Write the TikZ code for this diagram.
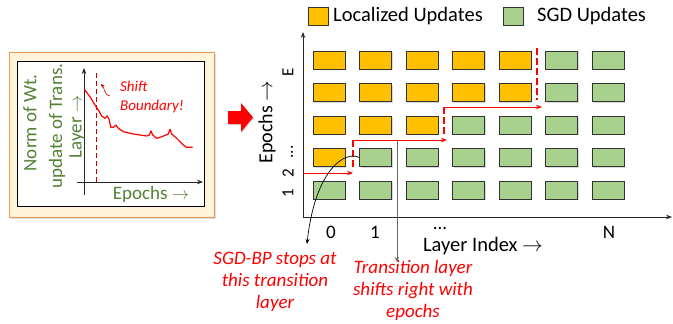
\documentclass[tikz,border=0pt]{standalone}
\usepackage{fontspec}
\setmainfont{Carlito}
\usepackage{xcolor}
\usetikzlibrary{positioning, arrows.meta, calc, shadows}
\definecolor{locorange}{RGB}{255,192,0}
\definecolor{sgdgreen}{RGB}{169,209,142}
\definecolor{txtgreen}{RGB}{84,130,53}
\definecolor{panelfill}{RGB}{255,243,218}
\definecolor{paneldraw}{RGB}{236,150,90}
\definecolor{darkred}{RGB}{192,0,0}

\begin{document}
\begin{tikzpicture}[x=1pt, y=-1pt, every node/.style={font=\fontsize{19}{23}\selectfont, inner sep=0pt}]
  \def\CX{329}
  \def\DX{46.5}
  \def\RY{60}
  \def\DY{32.5}
  \tikzset{
    axis/.style={draw=black!85, line width=0.8pt, -{Stealth[length=6pt, width=4.5pt]}},
    blk/.style={draw=black!80, line width=0.6pt, minimum width=32pt, minimum height=18pt,
      drop shadow={shadow xshift=1.3pt, shadow yshift=-1.3pt, opacity=0.3}},
    locblk/.style={blk, fill=locorange},
    sgdblk/.style={blk, fill=sgdgreen},
    legbox/.style={draw=black!80, line width=0.6pt, minimum width=20pt, minimum height=18pt},
    shiftarrow/.style={red, line width=0.8pt, -{Stealth[length=6pt, width=4.5pt]}},
    bound/.style={red, line width=1.8pt, dash pattern=on 7pt off 3pt},
    note/.style={red, font=\fontsize{19}{22}\selectfont\itshape, align=center},
    gtext/.style={txtgreen, font=\fontsize{19}{22}\selectfont},
    ylab/.style={rotate=90, font=\fontsize{17}{20}\selectfont},
  }
  \useasboundingbox (0,0) rectangle (673,324);

  %% ===== Left panel: norm of weight update =====
  \node[draw=paneldraw, fill=panelfill, line width=0.8pt, minimum width=205pt, minimum height=165pt,
    drop shadow={shadow xshift=2pt, shadow yshift=-2pt, opacity=0.25}] (panel) at (111.5,134.5) {};
  \node[draw=black, fill=white, line width=0.8pt, minimum width=187pt, minimum height=145pt] (plotbox) at (110.5,133.5) {};
  \coordinate (orig) at (84,182);
  \coordinate (ytop) at (84,68);
  \coordinate (xend) at (203,182);
  \draw[axis] (84,195) -- (ytop);
  \draw[axis] (77,182) -- (xend);
  \draw[darkred, line width=1pt, dash pattern=on 5pt off 3pt] (96,73) -- (96,182);
  % jagged curve of the norm
  \draw[red, line width=1.2pt, line join=round]
    (84.3,89.3) -- (90,96.7) -- (95,105) -- (98.3,110) -- (101.7,116) -- (105,118.3)
    -- (107.3,116) -- (109.3,120) -- (110.7,127.3) -- (113.3,127.3) -- (116,125)
    -- (118.3,128.3) -- (123.3,131.7) -- (133.3,134) -- (146.7,136) -- (149.3,135)
    -- (151,131) -- (152.7,135) -- (156.7,138.3) -- (161.7,136.7) -- (168.3,134)
    -- (170,129.3) -- (171.7,134) -- (176.7,138.3) -- (183.3,145) -- (186.7,147.3) -- (192.7,147.3);
  \node[gtext, rotate=90] (normlbl) at (30,123) {Norm of Wt.};
  \node[gtext, rotate=90] (updlbl) at (57,126) {update of Trans.};
  \node[gtext, rotate=90] (layerlbl) at (77,127) {Layer $\rightarrow$};
  \node[gtext] (epochlbl) at (151,194) {Epochs $\rightarrow$};
  \node[red, anchor=west, align=left, font=\fontsize{15}{20}\selectfont\itshape] (shiftlbl) at (120,97) {Shift\\Boundary!};
  \coordinate (curlS) at (110,96);
  \coordinate (curlE) at (101,84);
  \draw[darkred, line width=0.6pt, -{Stealth[length=4pt, width=3.5pt]}] (curlS) to[out=175, in=-50] (curlE);

  %% ===== Big arrow =====
  \fill[red, drop shadow={shadow xshift=1pt, shadow yshift=-1pt, opacity=0.3}]
    (228,111) -- (241,111) -- (241,103) -- (253,117.5) -- (241,132) -- (241,124) -- (228,124) -- cycle;

  %% ===== Legend =====
  \node[legbox, fill=locorange] (legloc) at (318,16) {};
  \node[anchor=west, font=\fontsize{20.5}{24}\selectfont] (leglocT) at (333,16) {Localized Updates};
  \node[legbox, fill=sgdgreen] (legsgd) at (513,16) {};
  \node[anchor=west, font=\fontsize{20.5}{24}\selectfont] (legsgdT) at (537,16) {SGD Updates};

  %% ===== Grid of layers x epochs =====
  \coordinate (O) at (303,217);
  \draw[axis] (O) -- (303,32);
  \draw[axis] (O) -- (672,217);
  \foreach \r/\nloc in {1/5, 2/5, 3/3, 4/1, 5/0} {
    \foreach \c in {1,...,7} {
      \ifnum\c>\nloc \def\sty{sgdblk}\else\def\sty{locblk}\fi
      \node[style=\sty] (b-\r-\c) at ({\CX+(\c-1)*\DX}, {\RY+(\r-1)*\DY}) {};
    }
  }
  % axis labels
  \node[ylab] (e1) at (288,193) {1};
  \node[ylab] (e2) at (288,173) {2};
  \node[ylab] (edots) at (292,152) {...};
  \node[ylab] (eE) at (288,72) {E};
  \node[rotate=90, font=\fontsize{20}{24}\selectfont] (eaxis) at (267,122) {Epochs $\rightarrow$};
  \node (l0) at (331,232) {0};
  \node (l1) at (375,232) {1};
  \node (ldots) at (440,228) {...};
  \node (lN) at (609,232) {N};
  \node[font=\fontsize{20.5}{24}\selectfont] (laxis) at (483,246) {Layer Index $\rightarrow$};

  %% ===== Transition boundaries =====
  \coordinate (t1a) at (353,140); \coordinate (t1b) at (353,170);
  \coordinate (t2a) at (444,107); \coordinate (t2b) at (444,135);
  \coordinate (t3a) at (537,48);  \coordinate (t3b) at (537,100);
  \draw[bound] (t1a) -- (t1b);
  \draw[bound] (t2a) -- (t2b);
  \draw[bound] (t3a) -- (t3b);
  \draw[shiftarrow] (303,173) -- (353,173);
  \draw[shiftarrow] (t1a) -- (447,140);
  \draw[shiftarrow] (t2a) -- (542,107);

  %% ===== Notes =====
  \node[note] (stopnote) at (275,282) {SGD-BP stops at\\this transition\\layer};
  \node[note] (shiftnote) at (413,290) {Transition layer\\shifts right with\\epochs};
  \coordinate (gtop) at (397,140);
  \draw[black!60, line width=0.8pt, -{Stealth[length=5pt, width=4pt]}] (gtop) -- (397,262);
  \draw[black, line width=0.7pt, -{Stealth[length=5pt, width=4pt]}]
    (b-4-2.west) .. controls (345,150) and (315,170) .. (307,244);
\end{tikzpicture}
\end{document}
